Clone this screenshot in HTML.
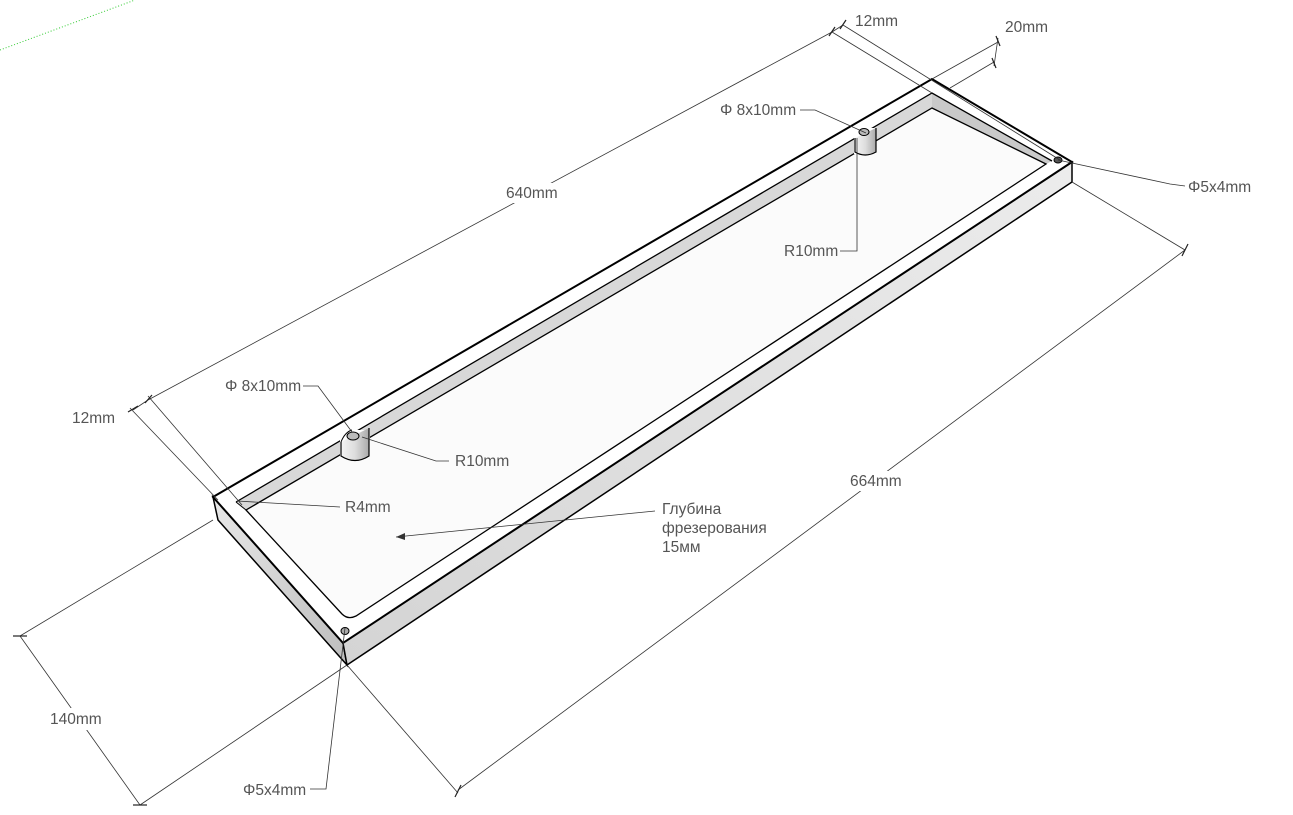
<!DOCTYPE html>
<html><head><meta charset="utf-8"><style>
html,body{margin:0;padding:0;background:#fff;}
svg{display:block}
text{font-family:"Liberation Sans","DejaVu Sans",sans-serif;font-size:15.5px;fill:#555;}
</style></head><body>
<svg width="1293" height="815" viewBox="0 0 1293 815" xmlns="http://www.w3.org/2000/svg">
<defs>
<linearGradient id="gl" x1="0" y1="0" x2="1" y2="1"><stop offset="0" stop-color="#e8e8e8"/><stop offset="1" stop-color="#bdbdbd"/></linearGradient>
<linearGradient id="gr" x1="0" y1="1" x2="1" y2="0"><stop offset="0" stop-color="#d4d4d4"/><stop offset="1" stop-color="#ececec"/></linearGradient>
<linearGradient id="cyl" x1="0" x2="1"><stop offset="0" stop-color="#f4f4f4"/><stop offset="0.5" stop-color="#ddd"/><stop offset="1" stop-color="#aaa"/></linearGradient>
</defs>
<line x1="0" y1="50" x2="135" y2="0" stroke="#3c3" stroke-width="1" stroke-dasharray="1,2"/>
<polygon points="213,497 343,643 347,665 218,520" fill="url(#gl)" stroke="#000" stroke-width="1.5"/>
<polygon points="343,643 1072,162 1072,182 347,665" fill="url(#gr)" stroke="#000" stroke-width="1.5"/>
<polygon points="213,497 932,79 1072,162 343,643" fill="#fff" stroke="#000" stroke-width="2"/>
<polygon points="236,502 932,93 932,108 246,510" fill="#d8d8d8"/>
<polygon points="932,93 1052,161 1046,164 932,108" fill="#c9c9c9"/>
<path d="M246,510 L932,108 L1046,164 L356,616 Q348,620 342,614 Z" fill="#fbfbfb" stroke="#000" stroke-width="1.3"/>
<polyline points="236,502 932,93 1052,161" fill="none" stroke="#000" stroke-width="1.3"/>
<line x1="236" y1="502" x2="246" y2="510" stroke="#000" stroke-width="1"/>
<rect x="340" y="430" width="30" height="27" fill="#fff"/>
<path d="M341,442 L341,456 Q355,465 369,456 L369,428" fill="url(#cyl)" stroke="#000" stroke-width="1.2"/>
<path d="M341,442 Q345,432 352,430" fill="none" stroke="#000" stroke-width="1"/>
<ellipse cx="353" cy="436" rx="6" ry="4" fill="#bbb" stroke="#000" stroke-width="1"/>
<rect x="854" y="128" width="22" height="26" fill="#fff"/>
<path d="M855,138 L855,152 Q865,158 876,152 L876,128" fill="url(#cyl)" stroke="#000" stroke-width="1.2"/>
<ellipse cx="864" cy="132" rx="5" ry="3.5" fill="#bbb" stroke="#000" stroke-width="1"/>
<ellipse cx="345" cy="631" rx="4" ry="3.5" fill="#aaa" stroke="#000"/>
<ellipse cx="1058" cy="160" rx="4" ry="3" fill="#555" stroke="#000"/>
<g stroke="#333" stroke-width="0.8" fill="none">
<line x1="148" y1="400" x2="832" y2="32"/>
<line x1="133" y1="410" x2="148" y2="400"/>
<line x1="832" y1="32" x2="843" y2="25"/>
<line x1="130" y1="408" x2="218" y2="500"/>
<line x1="148" y1="396" x2="242" y2="505"/>
<line x1="843" y1="25" x2="1060" y2="160"/>
<line x1="832" y1="32" x2="932" y2="93"/>
<line x1="932" y1="79" x2="998" y2="42"/>
<line x1="950" y1="88" x2="994" y2="62"/>
<line x1="998" y1="38" x2="994" y2="66"/>
<line x1="458" y1="790" x2="1185" y2="250"/>
<line x1="347" y1="665" x2="458" y2="793"/>
<line x1="1072" y1="182" x2="1185" y2="250"/>
<line x1="20" y1="636" x2="140" y2="805"/>
<line x1="20" y1="636" x2="213" y2="520"/>
<line x1="140" y1="805" x2="347" y2="665"/>
<polyline points="310,789 326,789 345,628"/>
<polyline points="1185,186 1170,184 1058,160"/>
<polyline points="840,251 857,251 857,138"/>
<polyline points="800,110 815,110 866,133"/>
<polyline points="303,386 318,386 352,432"/>
<polyline points="449,461 436,461 362,437"/>
<line x1="340" y1="507" x2="237" y2="501"/>
<line x1="655" y1="511" x2="396" y2="537"/>
</g>
<g stroke="#222" stroke-width="1.2">
<line x1="128" y1="412" x2="138" y2="406"/><line x1="145" y1="403" x2="152" y2="395"/>
<line x1="829" y1="36" x2="835" y2="27"/><line x1="840" y1="29" x2="846" y2="20"/>
<line x1="996" y1="36" x2="1000" y2="46"/><line x1="992" y1="58" x2="996" y2="68"/>
<line x1="455" y1="797" x2="461" y2="785"/><line x1="1182" y1="256" x2="1188" y2="244"/>
<line x1="13" y1="636" x2="27" y2="636"/><line x1="133" y1="805" x2="147" y2="805"/>
</g>
<polygon points="396,537 405,533 405,540" fill="#333"/>
<rect x="502" y="183" width="64" height="20" fill="#fff"/>
<rect x="846" y="471" width="64" height="20" fill="#fff"/>
<rect x="46" y="708" width="62" height="22" fill="#fff"/>
<text x="506" y="198">640mm</text>
<text x="855" y="26">12mm</text>
<text x="1005" y="32">20mm</text>
<text x="72" y="423">12mm</text>
<text x="850" y="486">664mm</text>
<text x="50" y="724">140mm</text>
<text x="243" y="795">Φ5x4mm</text>
<text x="1188" y="192">Φ5x4mm</text>
<text x="784" y="256">R10mm</text>
<text x="720" y="115">Φ 8x10mm</text>
<text x="225" y="391">Φ 8x10mm</text>
<text x="455" y="466">R10mm</text>
<text x="345" y="512">R4mm</text>
<text x="662" y="514">Глубина</text>
<text x="662" y="533">фрезерования</text>
<text x="662" y="552">15мм</text>
</svg>
</body></html>
